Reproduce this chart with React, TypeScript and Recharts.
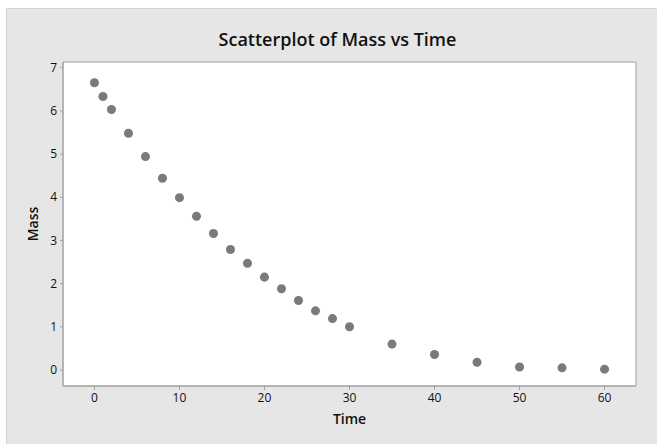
import { ScatterChart, Scatter, XAxis, YAxis, ZAxis, ReferenceArea, Label } from 'recharts'

const times = [0, 1, 2, 4, 6, 8, 10, 12, 14, 16, 18, 20, 22, 24, 26, 28, 30, 35, 40, 45, 50, 55, 60]
const masses = [6.65, 6.33, 6.03, 5.48, 4.94, 4.44, 3.99, 3.56, 3.16, 2.79, 2.47, 2.15, 1.88, 1.61, 1.37, 1.19, 1.0, 0.6, 0.36, 0.18, 0.07, 0.05, 0.02]
const xTicks = [0, 10, 20, 30, 40, 50, 60]
const yTicks = [0, 1, 2, 3, 4, 5, 6, 7]

const data = times.map((t, i) => ({ time: t, mass: masses[i] }))

const FONT = "'Open Sans', 'Noto Sans', sans-serif"
const X_DOMAIN: [number, number] = [-3.7, 63.7]
const Y_DOMAIN: [number, number] = [-0.37, 7.13]

export default function App() {
  return (
    <div style={{ position: 'absolute', left: 0, top: 0, width: 657, height: 444, background: '#fff', fontFamily: FONT }}>
      <div
        style={{
          position: 'absolute',
          left: 6,
          top: 8,
          width: 651,
          height: 436,
          background: '#e6e6e6',
          borderLeft: '1px solid #d2d2d2',
          borderTop: '1px solid #d2d2d2',
          boxSizing: 'border-box',
        }}
      />
      <div
        style={{
          position: 'absolute',
          left: 12,
          top: 27,
          width: 651,
          textAlign: 'center',
          fontSize: 18,
          fontWeight: 600,
          color: '#111',
        }}
      >
        Scatterplot of Mass vs Time
      </div>
      <div style={{ position: 'absolute', left: 0, top: 0 }}>
        <ScatterChart width={657} height={444} margin={{ top: 62, right: 21, bottom: 28, left: 23 }}>
          <XAxis
            type="number"
            dataKey="time"
            domain={X_DOMAIN}
            ticks={xTicks}
            allowDataOverflow
            height={30}
            tickSize={4}
            tickMargin={3}
            stroke="#a0a0a0"
            tick={{ fill: '#111', fontSize: 12, fontFamily: FONT }}
          >
            <Label value="Time" position="insideBottom" offset={-8} style={{ fill: '#111', fontSize: 14, fontWeight: 600, fontFamily: FONT }} />
          </XAxis>
          <YAxis
            type="number"
            dataKey="mass"
            domain={Y_DOMAIN}
            ticks={yTicks}
            allowDataOverflow
            width={40}
            tickSize={3}
            tickMargin={3}
            stroke="#a0a0a0"
            tick={{ fill: '#111', fontSize: 12, fontFamily: FONT }}
          >
            <Label value="Mass" angle={-90} position="insideLeft" offset={10} style={{ fill: '#111', fontSize: 14, fontWeight: 600, fontFamily: FONT, textAnchor: 'middle' }} />
          </YAxis>
          <ZAxis range={[44, 44]} />
          <ReferenceArea x1={X_DOMAIN[0]} x2={X_DOMAIN[1]} y1={Y_DOMAIN[0]} y2={Y_DOMAIN[1]} fill="#ffffff" fillOpacity={1} stroke="#a0a0a0" strokeWidth={1} />
          <Scatter data={data} fill="#7a7a7a" isAnimationActive={false} />
        </ScatterChart>
      </div>
    </div>
  )
}
